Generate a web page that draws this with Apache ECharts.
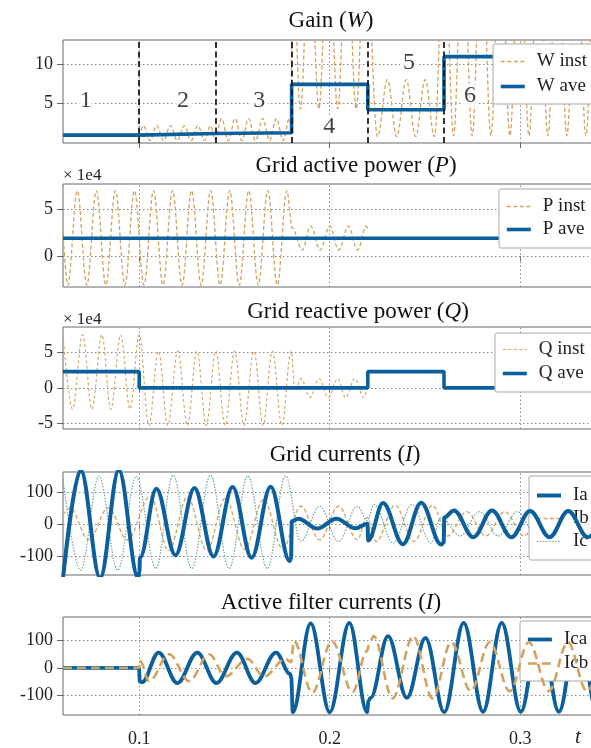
<!DOCTYPE html>
<html><head><meta charset="utf-8">
<script src="https://cdn.jsdelivr.net/npm/echarts@6/dist/echarts.min.js"></script>
<style>html,body{margin:0;padding:0;background:#fff;overflow:hidden;width:591px;height:748px;}#c{width:660px;height:748px;}</style>
</head><body><div id="c"></div>
<script>
// ---------- data ----------
const tTicks = [0.1, 0.2, 0.3];
const segBounds = [0.1, 0.14, 0.18, 0.22, 0.26];
const segLabels = ['1', '2', '3', '4', '5', '6'];
const segLabelT = [0.072, 0.123, 0.163, 0.1997, 0.2416, 0.2736];
const segLabelW = [5.3, 5.3, 5.3, 2.0, 10.1, 6.0];

const wTicks = [5, 10];
const wAveT = [0.06, 0.1, 0.14, 0.18, 0.22, 0.26, 0.355];
const wAveV = [1.0, 1.2, 1.3, 7.4, 4.2, 10.9, 10.9];
const wInst = [[0.1,0.8],[0.1022,2.2],[0.1057,0.3],[0.1092,2.2],[0.1128,0.3],[0.1164,2.2],[0.12,0.3],[0.1237,2.2],[0.1272,0.3],[0.1308,2.2],[0.1342,0.3],[0.1375,2.2],[0.1398,0.4],
  [0.1432,3.1],[0.1468,0.3],[0.1504,3.1],[0.1539,0.3],[0.1574,3.1],[0.161,0.3],[0.1649,3.1],[0.1684,0.3],[0.172,3.1],[0.1756,0.3],[0.1788,3.1],[0.1798,2.0],
  [0.1802,27],[0.1846,4.3],[0.1895,27],[0.1943,4.3],[0.1992,27],[0.2042,4.3],[0.209,27],[0.2139,4.3],[0.2188,27],
  [0.2251,0.8],[0.2303,8.0],[0.2352,0.8],[0.2402,8.0],[0.2451,0.8],[0.2501,8.0],[0.255,0.8],
  [0.2601,27],[0.265,0.9],[0.2699,28],[0.2748,0.9],[0.2797,28],[0.2846,0.9],[0.2896,28],[0.2946,0.9],[0.2996,28],[0.3046,0.9],[0.3096,28],[0.3145,0.9],[0.3195,28],[0.3245,0.9],[0.3295,28],[0.3345,0.9],[0.3395,28],[0.3445,0.9],[0.3495,28]];

const pTicks = [0, 5];
const pAveT = [0.06, 0.355];
const pAveV = [1.9, 1.9];
const pInst = [[0.06,2.5],[0.0625,-3.1],[0.0675,7.0],[0.0725,-3.1],[0.0775,7.0],[0.0825,-3.1],[0.0875,7.0],[0.0925,-3.1],[0.0975,7.0],[0.1025,-3.1],[0.1075,7.0],[0.1125,-3.1],[0.1175,7.0],[0.1225,-3.1],[0.1275,7.0],[0.1325,-3.1],[0.1375,7.0],[0.1425,-3.1],[0.1475,7.0],[0.1525,-3.1],[0.1575,7.0],[0.1625,-3.1],[0.1675,7.0],[0.1725,-3.1],[0.1775,7.0],
  [0.1803,3.0],[0.1856,0.65],[0.19,3.2],[0.195,0.65],[0.2,3.2],[0.2047,0.65],[0.2098,3.2],[0.2146,0.65],[0.2192,3.2],[0.22,2.9]];

const qTicks = [-5, 0, 5];
const qAveT = [0.06, 0.1, 0.22, 0.26, 0.355];
const qAveV = [2.3, 0, 2.3, 0, 0];
const qInst = [[0.06,7.4],[0.065,-3.0],[0.0703,7.5],[0.0752,-3.0],[0.0804,7.5],[0.0851,-3.0],[0.0903,7.5],[0.0952,-3.0],[0.1,7.5],
  [0.1051,-5.3],[0.1101,5.2],[0.115,-5.3],[0.1202,5.2],[0.1253,-5.3],[0.1303,5.2],[0.1352,-5.3],[0.1402,5.2],[0.1451,-5.3],[0.1501,5.2],[0.155,-5.3],[0.1602,5.2],[0.165,-5.3],[0.1699,5.2],[0.1749,-5.3],[0.1797,5.2],
  [0.1818,-0.4],[0.185,1.3],[0.1897,-1.35],[0.1944,1.3],[0.1993,-1.35],[0.2042,1.3],[0.2083,-1.35],[0.2132,1.3],[0.2178,-1.35],[0.22,0.3]];

const iTicks = [-100, 0, 100];
const ia = [[0.06,-170],[0.0693,168],[0.0795,-170],[0.0893,168],[0.0995,-170],[0.1001,-150],[0.1004,-106],[0.109,110],[0.119,-98],[0.129,112],[0.139,-102],[0.149,115],[0.159,-106],[0.169,116],[0.179,-117],[0.1797,-108],
  [0.1801,8],[0.1835,16],[0.1935,-15],[0.2035,16],[0.2135,-14],[0.2198,0],[0.2202,-52],[0.228,65],[0.2384,-64],[0.248,66],[0.2585,-65],[0.2598,-58],
  [0.2602,20],[0.2652,42],[0.2754,-42],[0.2852,42],[0.2954,-42],[0.3052,40],[0.3154,-42],[0.3252,40],[0.3354,-42],[0.3452,40]];
const ib = [[0.06,28],[0.0636,50],[0.0735,-50],[0.0838,50],[0.0938,-50],[0.1058,86],[0.1155,-84],[0.1253,84],[0.1355,-84],[0.1452,80],[0.1554,-80],[0.1652,76],[0.1754,-78],
  [0.1848,55],[0.1947,-50],[0.2046,55],[0.2145,-50],[0.2195,20],[0.2244,-55],[0.2343,58],[0.2442,-55],[0.254,58],
  [0.2619,-38],[0.2719,38],[0.2819,-38],[0.2919,38],[0.3019,-38],[0.3119,38],[0.3219,-38],[0.3319,38],[0.3419,-38]];
const ic = [[0.06,140],[0.0692,-145],[0.0789,149],[0.0887,-145],[0.0985,149],[0.1087,-140],[0.1178,152],[0.1276,-140],[0.1374,152],[0.1472,-140],[0.157,150],[0.1672,-140],[0.1769,150],
  [0.1848,-55],[0.1947,55],[0.2046,-55],[0.2145,55],[0.2195,10],[0.2234,60],[0.2333,-60],[0.2432,60],[0.2531,-60],
  [0.2585,20],[0.2685,-38],[0.2785,38],[0.2885,-38],[0.2985,38],[0.3085,-38],[0.3185,38],[0.3285,-38],[0.3385,38]];

const icTicks = [-100, 0, 100];
const ica = [[0.06,0],[0.0999,0],[0.1003,-50],[0.1015,-52],[0.1102,55],[0.12,-55],[0.1305,55],[0.1405,-55],[0.1513,55],[0.161,-55],[0.1718,55],[0.1792,-22],[0.1798,-35],
  [0.1806,-160],[0.19,160],[0.2,-160],[0.2103,162],[0.2196,-160],[0.2204,-118],[0.2215,-108],[0.2306,114],[0.2405,-108],[0.2503,108],
  [0.2601,-160],[0.2703,162],[0.2805,-158],[0.2903,162],[0.3003,-158],[0.3103,162],[0.3203,-158],[0.3303,162],[0.3403,-158],[0.3503,162]];
const icb = [[0.06,0],[0.0999,0],[0.1003,27],[0.1052,-48],[0.1157,49],[0.1262,-48],[0.1367,49],[0.1454,-31],[0.1568,32],[0.1655,-31],[0.1769,32],[0.1797,20],
  [0.1812,96],[0.1908,-90],[0.2012,96],[0.212,-88],[0.2195,60],[0.2205,80],[0.223,114],[0.233,-110],[0.2438,114],[0.254,-110],
  [0.2638,92],[0.274,-84],[0.284,92],[0.2945,-84],[0.3045,92],[0.315,-84],[0.325,92],[0.335,-84],[0.345,92]];

// ---------- styling ----------
const SERIF = 'Liberation Serif';
const BLUE = '#0b5f9c';
const ORANGE = '#d2a25e';
const TEAL = '#6aa59c';
const GRID_LINE = '#888';

const grids = [
  {top: 40, height: 103},
  {top: 184, height: 103},
  {top: 327, height: 102},
  {top: 472, height: 103},
  {top: 617, height: 102}
];
const yRanges = [[0, 13], [-3.3, 7.7], [-5.8, 8.6], [-160, 162], [-170, 183]];
const yTickSets = [wTicks, pTicks, qTicks, iTicks, icTicks];

const stepPairs = (ts, vs) => ts.map((t, i) => [t, vs[i]]);

function gridLines(k) {
  return {
    silent: true, z: 1, symbol: ['none', 'none'], animation: false,
    label: {show: false},
    lineStyle: {color: GRID_LINE, width: 1, type: [1.5, 2.5]},
    emphasis: {disabled: true},
    data: tTicks.map(v => ({xAxis: v})).concat(yTickSets[k].map(v => ({yAxis: v})))
  };
}

function line(name, k, data, o) {
  const s = Object.assign({
    name, type: 'line', xAxisIndex: k, yAxisIndex: k, data,
    symbol: 'none', showSymbol: false, animation: false, silent: true,
    smooth: 0.36, smoothMonotone: 'x', clip: true
  }, o);
  s.itemStyle = {color: s.lineStyle.color};
  return s;
}

const series = [
  line('W inst', 0, wInst, {z: 2, lineStyle: {color: ORANGE, width: 1.3, type: [4, 2.5]},
    markLine: {silent: true, z: 6, symbol: ['none','none'], animation: false, label: {show: false},
      lineStyle: {color: '#111', width: 1.7, type: [6, 3.5]}, data: segBounds.map(v => ({xAxis: v}))}}),
  line('W ave', 0, stepPairs(wAveT, wAveV), {z: 3, smooth: false, step: 'end', lineStyle: {color: BLUE, width: 3.6}, markLine: gridLines(0)}),
  {type: 'scatter', xAxisIndex: 0, yAxisIndex: 0, z: 7, silent: true, animation: false, symbolSize: 1,
    itemStyle: {color: 'rgba(0,0,0,0)'},
    data: segLabels.map((s, i) => ({name: s, value: [segLabelT[i], segLabelW[i]]})),
    label: {show: true, position: 'inside', formatter: p => p.name, fontFamily: SERIF, fontSize: 24, color: '#111',
      backgroundColor: '#fff', padding: [0, 3]}},

  line('P inst', 1, pInst, {z: 2, lineStyle: {color: ORANGE, width: 1.3, type: [4, 2.5]}}),
  line('P ave', 1, stepPairs(pAveT, pAveV), {z: 3, smooth: false, lineStyle: {color: BLUE, width: 3.6}, markLine: gridLines(1)}),

  line('Q inst', 2, qInst, {z: 2, lineStyle: {color: ORANGE, width: 1.1, type: [3, 2.5]}}),
  line('Q ave', 2, stepPairs(qAveT, qAveV), {z: 3, smooth: false, step: 'end', lineStyle: {color: BLUE, width: 3.6}, markLine: gridLines(2)}),

  line('Ia', 3, ia, {z: 4, lineStyle: {color: BLUE, width: 4}, markLine: gridLines(3)}),
  line('Ib', 3, ib, {z: 3, lineStyle: {color: ORANGE, width: 1.3, type: [4, 2.5]}}),
  line('Ic', 3, ic, {z: 3, lineStyle: {color: TEAL, width: 1.2, type: [1.5, 1.5]}}),

  line('Ica', 4, ica, {z: 3, lineStyle: {color: BLUE, width: 3.8}, markLine: gridLines(4)}),
  line('Icb', 4, icb, {z: 4, lineStyle: {color: ORANGE, width: 2.6, type: [9, 5]}})
];

const xAxes = grids.map((g, k) => ({
  type: 'value', gridIndex: k, min: 0.06, max: 0.355,
  axisLine: {show: false}, splitLine: {show: false},
  axisTick: {show: true, customValues: tTicks, length: 5, lineStyle: {color: '#666'}},
  axisLabel: {show: k === 4, customValues: tTicks, fontFamily: SERIF, fontSize: 18, color: '#222', margin: 15}
}));
const yAxes = grids.map((g, k) => ({
  type: 'value', gridIndex: k, min: yRanges[k][0], max: yRanges[k][1],
  axisLine: {show: false}, splitLine: {show: false},
  axisTick: {show: true, customValues: yTickSets[k], length: 6, lineStyle: {color: '#666'}},
  axisLabel: {customValues: yTickSets[k], fontFamily: SERIF, fontSize: 18, color: '#222', margin: 10}
}));

function legend(names, left, top, gap, padTop, padBot) {
  return {
    data: names, orient: 'vertical', left, top, itemGap: gap, itemWidth: 24, itemHeight: 14,
    padding: [padTop, 60, padBot, 6], backgroundColor: '#fff', borderColor: '#a8a8a8', borderWidth: 1,
    borderRadius: 2, selectedMode: false,
    itemStyle: {opacity: 0}, lineStyle: {width: 'inherit'},
    textStyle: {fontFamily: SERIF, fontSize: 19, color: '#222', padding: [0, 0, 0, 7]}
  };
}

function title(parts, x, y) {
  return {type: 'text', x, y, silent: true, style: {
    text: parts, textAlign: 'center', textVerticalAlign: 'middle',
    rich: {n: {fontFamily: SERIF, fontSize: 23, fill: '#111'}, i: {fontFamily: SERIF, fontSize: 23, fontStyle: 'italic', fill: '#111'}}
  }};
}

const option = {
  animation: false,
  backgroundColor: '#fff',
  grid: grids.map(g => ({left: 63, width: 562, top: g.top, height: g.height, show: true, borderColor: '#666', borderWidth: 1, backgroundColor: 'transparent'})),
  xAxis: xAxes,
  yAxis: yAxes,
  legend: [
    legend(['W inst', 'W ave'], 493, 44, 6, 8, 8),
    legend(['P inst', 'P ave'], 499, 189, 4, 8, 9),
    legend(['Q inst', 'Q ave'], 495, 333, 5, 7, 9),
    legend(['Ia', 'Ib', 'Ic'], 529, 476, 4, 10, 9),
    legend(['Ica', 'Icb'], 520, 621, 5, 9, 8)
  ],
  graphic: [
    title('{n|Gain (}{i|W}{n|)}', 331, 21),
    title('{n|Grid active power (}{i|P}{n|)}', 356, 166),
    title('{n|Grid reactive power (}{i|Q}{n|)}', 358, 312),
    title('{n|Grid currents (}{i|I}{n|)}', 345, 455),
    title('{n|Active filter currents (}{i|I}{n|)}', 331, 603),
    {type: 'text', x: 63, y: 176, silent: true, style: {text: '× 1e4', font: '17px "Liberation Serif"', fill: '#222', textVerticalAlign: 'middle'}},
    {type: 'text', x: 63, y: 320, silent: true, style: {text: '× 1e4', font: '17px "Liberation Serif"', fill: '#222', textVerticalAlign: 'middle'}},
    {type: 'text', x: 578, y: 737, silent: true, style: {text: 't', font: 'italic 21px "Liberation Serif"', fill: '#222', textAlign: 'center', textVerticalAlign: 'middle'}}
  ],
  series
};

const chart = echarts.init(document.getElementById('c'), null, {renderer: 'canvas'});
chart.setOption(option);
</script>
</body></html>
